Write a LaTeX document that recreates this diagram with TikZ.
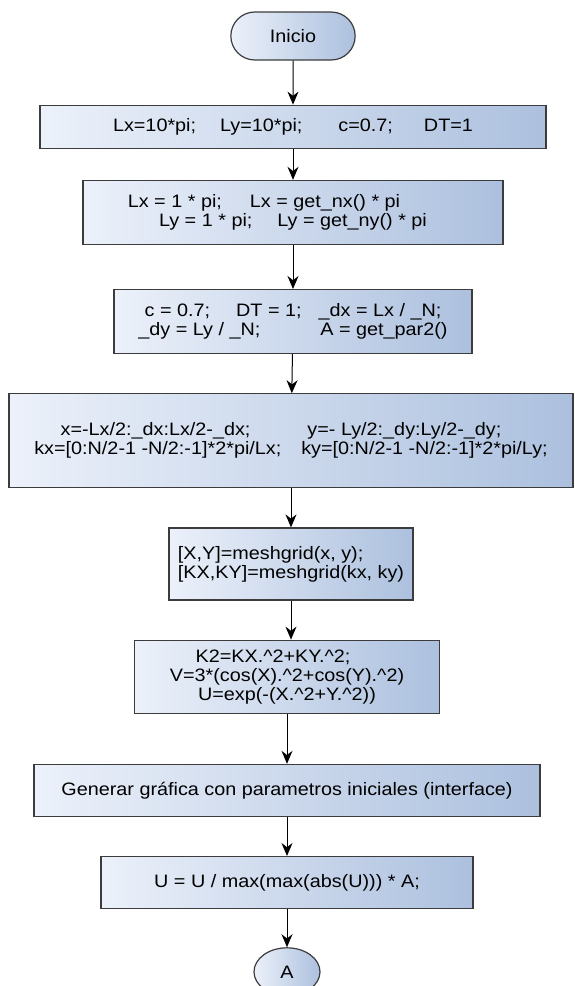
\documentclass[tikz,border=0pt]{standalone}
\usepackage{fontspec}
\setmainfont{Liberation Sans}[FakeStretch=1.1]
\usepackage{tikz}
\usetikzlibrary{arrows.meta,shapes,positioning}
\definecolor{flowlight}{RGB}{236,241,250}
\definecolor{flowdark}{RGB}{172,192,222}
\definecolor{flowedge}{RGB}{60,60,60}

\begin{document}
\begin{tikzpicture}[
    node distance=39pt,
    block/.style={rectangle, draw=flowedge, line width=1.2pt, left color=flowlight, right color=flowdark, font=\fontsize{18}{19}\selectfont, align=center, inner sep=2pt},
    term/.style={rounded rectangle, draw=flowedge, line width=1.2pt, left color=flowlight, right color=flowdark, font=\fontsize{18}{19}\selectfont, minimum width=131pt, minimum height=48pt},
    conn/.style={ellipse, draw=flowedge, line width=1.2pt, left color=flowlight, right color=flowdark, font=\fontsize{18}{19}\selectfont, minimum width=66pt, minimum height=48pt, inner sep=0pt},
    arrow/.style={-{Stealth[length=13pt, width=11pt]}, line width=1pt, black}
]
\useasboundingbox (0,0) rectangle (575pt,-986pt);

% Start
\node[term] (start) at (293pt,-36pt) {Inicio};

% Initial values
\node[block, below=44pt of start, minimum width=506pt, minimum height=43pt] (params) {Lx=10*pi;\hspace{24pt}Ly=10*pi;\hspace{36pt}c=0.7;\hspace{31pt}DT=1};

% Domain size
\node[block, below=31pt of params, minimum width=420pt, minimum height=64pt] (domain) {Lx = 1 * pi;\hspace{28pt}Lx = get\_nx() * pi\hspace*{58pt}\null\\Ly = 1 * pi;\hspace{25pt}Ly = get\_ny() * pi};

% Steps
\node[block, below=44pt of domain, minimum width=358pt, minimum height=64pt] (steps) {c = 0.7;\hspace{26pt}DT = 1;\hspace{17pt}\_dx = Lx / \_N;\\\_dy = Ly / \_N;\hspace{60pt}A = get\_par2()};

% Vectors
\node[block, below=of steps, xshift=-2pt, minimum width=564pt, minimum height=94pt] (vectors) {x=-Lx/2:\_dx:Lx/2-\_dx;\hspace{57pt}y=- Ly/2:\_dy:Ly/2-\_dy;\hspace*{20pt}\null\\kx=[0:N/2-1 -N/2:-1]*2*pi/Lx;\hspace{20pt}ky=[0:N/2-1 -N/2:-1]*2*pi/Ly;};

% Grids
\node[block, below=of vectors, align=left, minimum width=244pt, minimum height=72pt] (grid) {[X,Y]=meshgrid(x, y);\\{[}KX,KY]=meshgrid(kx, ky)};

% Potential and initial field
\node[block, below=of grid, xshift=-4pt, minimum width=305pt, minimum height=73pt] (field) {K2=KX.\textasciicircum 2+KY.\textasciicircum 2;\hspace*{28pt}\null\\V=3*(cos(X).\textasciicircum 2+cos(Y).\textasciicircum 2)\\U=exp(-(X.\textasciicircum 2+Y.\textasciicircum 2))};

% Plot
\node[block, below=50pt of field, minimum width=506pt, minimum height=52pt] (plot) {Generar gráfica con parametros iniciales (interface)};

% Normalize
\node[block, below=of plot, minimum width=372pt, minimum height=52pt] (norm) {U = U / max(max(abs(U))) * A;};

% Connector
\node[conn, below=38pt of norm] (conA) {A};

% Arrows
\draw[arrow] (start) -- (params);
\draw[arrow] (params) -- (domain);
\draw[arrow] (domain) -- (steps);
\draw[arrow] (steps) -- (vectors);
\draw[arrow] (vectors) -- (grid);
\draw[arrow] (grid) -- (grid |- field.north);
\draw[arrow] (field) -- (plot);
\draw[arrow] (plot) -- (norm);
\draw[arrow] (norm) -- (conA);

\end{tikzpicture}
\end{document}
